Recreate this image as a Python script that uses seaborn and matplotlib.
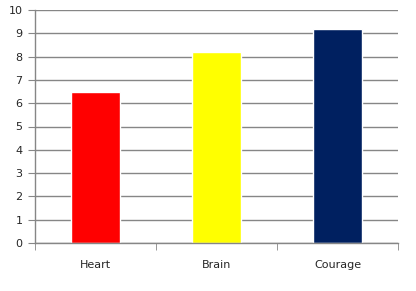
import matplotlib
matplotlib.use("Agg")
import matplotlib.pyplot as plt
import seaborn as sns
import pandas as pd
from matplotlib.ticker import FixedLocator

categories = ["Heart", "Brain", "Courage"]
values = [6.5, 8.2, 9.2]
colors = ["#FF0000", "#FFFF00", "#002060"]
yticks = [0, 1, 2, 3, 4, 5, 6, 7, 8, 9, 10]

sns.set_style("white")
plt.rcParams['font.family'] = ['DejaVu Sans']

df = pd.DataFrame({"cat": categories, "val": values})

fig = plt.figure(figsize=(4.16, 2.91), dpi=100)
ax = fig.add_axes([35/416, (291-243)/291, (398-35)/416, (243-10)/291])

sns.barplot(data=df, x="cat", y="val", hue="cat", palette=colors, width=0.4,
            ax=ax, legend=False, saturation=1)

ax.set_xlim(-0.5, 2.5)
ax.set_ylim(0, 10)
ax.set_yticks(yticks)
ax.set_yticklabels([str(t) for t in yticks], fontsize=8)
ax.yaxis.grid(True, color="#868686", linewidth=1)
ax.set_axisbelow(True)
ax.set_xlabel("")
ax.set_ylabel("")

for s in ["top", "right"]:
    ax.spines[s].set_visible(False)
for s in ["left", "bottom"]:
    ax.spines[s].set_color("#868686")
    ax.spines[s].set_linewidth(1)

ax.tick_params(axis="y", length=5, color="#868686", pad=4, labelsize=8, left=True)
ax.tick_params(axis="x", which="major", length=0, pad=12, labelsize=8)
ax.xaxis.set_minor_locator(FixedLocator([-0.5, 0.5, 1.5, 2.5]))
ax.tick_params(axis="x", which="minor", length=5, color="#868686", bottom=True)

fig.savefig("out.png", dpi=100)
